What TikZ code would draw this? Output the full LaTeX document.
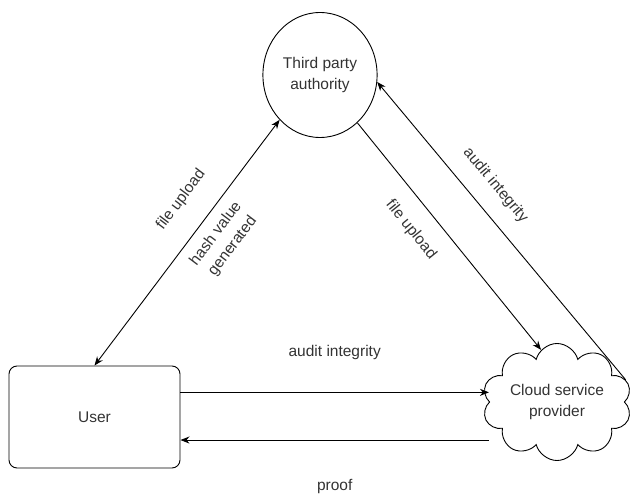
\documentclass[tikz,border=0pt]{standalone}
\usepackage{fontspec}
\setmainfont{Liberation Sans}
\usetikzlibrary{arrows.meta,calc,positioning,shapes.geometric,shapes.symbols}

\begin{document}
\begin{tikzpicture}[x=1pt,y=-1pt,font=\fontsize{15.5}{21}\selectfont,text=black!80,
      box/.style={draw,line width=.9pt,align=center},
      a/.style={-{Stealth[length=9pt,width=7pt]},line width=.9pt},
      aa/.style={{Stealth[length=9pt,width=7pt]}-{Stealth[length=9pt,width=7pt]},line width=.9pt},
      lbl/.style={inner sep=0pt,align=center}]
      \useasboundingbox (0,0) rectangle (630,494);
      \node[box,ellipse,minimum width=114pt,minimum height=125pt] (tpa) at (320,75) {Third party\\authority};
      \node[box,rounded corners=8pt,minimum width=171pt,minimum height=102pt] (user) at (94.5,417) {User};
      \node[box,cloud,cloud puffs=10,cloud ignores aspect,minimum width=142pt,minimum height=117pt] (csp) at (557,402) {Cloud service\\provider};
      % user <-> authority
      \draw[aa] (user.north) -- (tpa.228)
        node[lbl,sloped,pos=.6,above=23pt] {file upload}
        node[lbl,sloped,pos=.58,below=10pt] {hash value\\generated};
      % authority <-> cloud
      \draw[a] (tpa.-52) -- (csp.107) node[lbl,sloped,pos=.4,below=18pt] {file upload};
      \draw[a] (csp.18) -- (tpa.-7) node[lbl,sloped,pos=.6,above=17pt] {audit integrity};
      % user <-> cloud
      \draw[a] (user.16) -- (user.16 -| csp.west) node[lbl,midway,above=32pt] {audit integrity};
      \draw[a] (user.-15 -| csp.west) -- (user.-15) node[lbl,midway,below=39pt] {proof};
    \end{tikzpicture}
\end{document}
